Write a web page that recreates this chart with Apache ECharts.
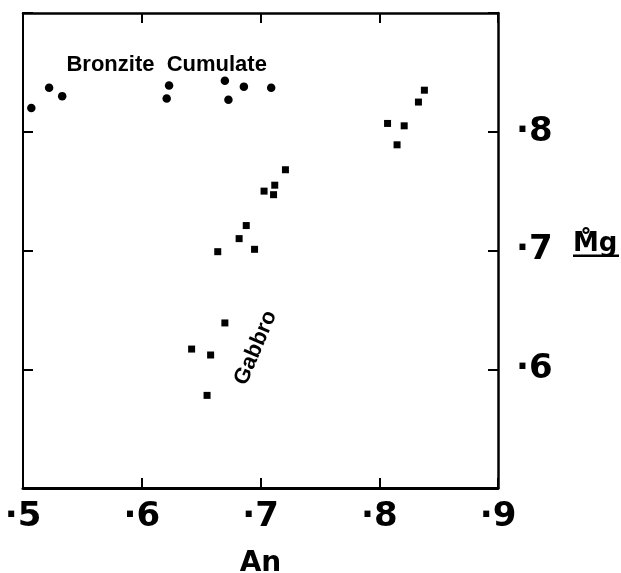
<!DOCTYPE html>
<html>
<head>
<meta charset="utf-8">
<script src="https://cdn.jsdelivr.net/npm/echarts@6/dist/echarts.min.js"></script>
<style>
html,body{margin:0;padding:0;background:#fff;}
#c{width:621px;height:573px;}
</style>
</head>
<body>
<div id="c"></div>
<script>
// Bronzite cumulate points [An, Mg]
const bronziteAn = [0.507, 0.522, 0.533, 0.623, 0.621, 0.670, 0.673, 0.686, 0.709];
const bronziteMg = [0.820, 0.837, 0.830, 0.839, 0.828, 0.843, 0.827, 0.838, 0.837];
// Gabbro points [An, Mg]
const gabbroAn = [0.838, 0.833, 0.807, 0.821, 0.815, 0.721, 0.712, 0.703, 0.711, 0.688, 0.682, 0.664, 0.695, 0.670, 0.642, 0.658, 0.655];
const gabbroMg = [0.835, 0.825, 0.807, 0.805, 0.789, 0.768, 0.755, 0.750, 0.747, 0.721, 0.710, 0.699, 0.701, 0.639, 0.617, 0.612, 0.578];
// tick labels
const xTickValues = [0.5, 0.6, 0.7, 0.8, 0.9];
const xTickLabels = ['·5', '·6', '·7', '·8', '·9'];
const yTickValues = [0.6, 0.7, 0.8];
const yTickLabels = ['·6', '·7', '·8'];
// annotations [An, Mg, text]
const annoBronzite = [0.621, 0.856, 'Bronzite  Cumulate'];
const annoGabbro = [0.696, 0.618, 'Gabbro'];
const xName = 'An';
const yName = 'M\u030Ag';

function lab(values, labels) {
  return function (v) {
    for (let i = 0; i < values.length; i++) if (Math.abs(values[i] - v) < 1e-6) return labels[i];
    return '';
  };
}
const zip = (a, b) => a.map((v, i) => [v, b[i]]);

const chart = echarts.init(document.getElementById('c'));
const numFont = {fontFamily: 'DejaVu Sans', fontWeight: 'bold', color: '#000'};
const axisBase = {
  type: 'value', min: 0.5, max: 0.9, interval: 0.1,
  splitLine: {show: false},
  axisTick: {show: true, inside: true, length: 10, lineStyle: {color: '#000', width: 2}},
};
chart.setOption({
  animation: false,
  backgroundColor: '#fff',
  grid: {left: 23, right: 123, top: 13, bottom: 85, containLabel: false, outerBoundsMode: 'none'},
  xAxis: [
    Object.assign({}, axisBase, {
      position: 'bottom',
      axisLine: {lineStyle: {color: '#000', width: 3}},
      axisLabel: Object.assign({fontSize: 34, margin: 12, formatter: lab(xTickValues, xTickLabels)}, numFont),
      name: xName, nameLocation: 'middle', nameGap: 62,
      nameTextStyle: {fontFamily: 'DejaVu Sans', fontWeight: 'bold', fontSize: 28, color: '#000'}
    }),
    Object.assign({}, axisBase, {
      position: 'top',
      axisLine: {lineStyle: {color: '#000', width: 2.5}},
      axisLabel: {show: false}
    })
  ],
  yAxis: [
    Object.assign({}, axisBase, {
      position: 'right',
      axisLine: {lineStyle: {color: '#000', width: 2.5}},
      axisLabel: Object.assign({fontSize: 34, margin: 18, formatter: lab(yTickValues, yTickLabels)}, numFont)
    }),
    Object.assign({}, axisBase, {
      position: 'left',
      axisLine: {lineStyle: {color: '#000', width: 2}},
      axisLabel: {show: false}
    })
  ],
  series: [
    {
      name: 'Bronzite Cumulate', type: 'scatter', symbol: 'circle', symbolSize: 8.5,
      itemStyle: {color: '#000', opacity: 1}, data: zip(bronziteAn, bronziteMg)
    },
    {
      name: 'Gabbro', type: 'scatter', symbol: 'rect', symbolSize: 7,
      itemStyle: {color: '#000', opacity: 1}, data: zip(gabbroAn, gabbroMg)
    },
    {
      name: 'labels', type: 'scatter', symbolSize: 0, silent: true,
      itemStyle: {opacity: 1},
      data: [
        {value: [annoBronzite[0], annoBronzite[1]], label: {formatter: annoBronzite[2]}},
        {value: [annoGabbro[0], annoGabbro[1]], label: {formatter: annoGabbro[2], rotate: 67}}
      ],
      label: {show: true, position: 'inside', fontFamily: 'Liberation Sans', fontWeight: 'bold', fontSize: 22, color: '#000'}
    }
  ]
});

// Mg axis title with underline, placed next to the right axis
const yMid = chart.convertToPixel({yAxisIndex: 0}, 0.7);
const xRight = chart.convertToPixel({xAxisIndex: 0}, 0.9);
chart.setOption({
  graphic: [{
    type: 'group', x: xRight + 75, y: yMid - 6,
    children: [
      {type: 'text', style: {text: yName, fontFamily: 'DejaVu Sans', fontWeight: 'bold', fontSize: 26, fill: '#000', textAlign: 'left', textVerticalAlign: 'middle'}},
      {type: 'rect', shape: {x: 0, y: 10, width: 46, height: 2.5}, style: {fill: '#000'}}
    ]
  }]
});
</script>
</body>
</html>
